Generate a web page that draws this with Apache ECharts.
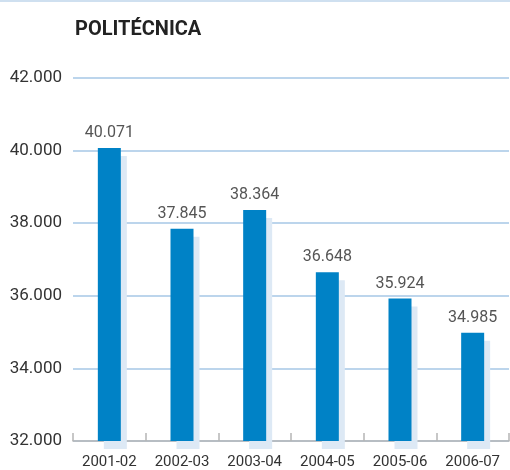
<!DOCTYPE html>
<html>
<head>
<meta charset="utf-8">
<script src="https://cdn.jsdelivr.net/npm/echarts@6/dist/echarts.min.js"></script>
<style>
  html, body { margin: 0; padding: 0; background: #fff; }
  #chart { width: 510px; height: 470px; }
</style>
</head>
<body>
<div id="chart"></div>
<script>
// datos del gráfico
const categories = ['2001-02', '2002-03', '2003-04', '2004-05', '2005-06', '2006-07'];
const values = [40071, 37845, 38364, 36648, 35924, 34985];
const yTicks = [32000, 34000, 36000, 38000, 40000, 42000];

// formato con punto como separador de miles
function fmt (v) {
  return (v / 1000).toFixed(3);
}

const myChart = echarts.init(document.getElementById('chart'));
myChart.setOption({
  animation: false,
  title: {
    text: 'POLITÉCNICA',
    left: 70,
    top: 15,
    textStyle: {
      fontFamily: 'Roboto',
      fontWeight: 'bold',
      fontSize: 20,
      color: '#222'
    }
  },
  graphic: [{
    type: 'rect',
    shape: { x: 0, y: 0, width: 510, height: 2 },
    style: { fill: '#cfe0f0' }
  }],
  grid: {
    left: 73,
    right: 1,
    top: 78,
    bottom: 26
  },
  xAxis: {
    type: 'category',
    data: categories,
    axisLine: { lineStyle: { color: '#b5b5b5', width: 1.5 } },
    axisTick: {
      show: true,
      inside: true,
      length: 8,
      lineStyle: { color: '#b5b5b5', width: 1.5 }
    },
    axisLabel: {
      margin: 14,
      fontFamily: 'Roboto',
      fontSize: 15,
      color: '#333'
    }
  },
  yAxis: {
    type: 'value',
    min: yTicks[0],
    max: yTicks[yTicks.length - 1],
    interval: 2000,
    axisLine: { show: false },
    axisTick: { show: false },
    splitLine: { lineStyle: { color: '#bcd5ec', width: 2 } },
    axisLabel: {
      margin: 11,
      fontFamily: 'Roboto',
      fontSize: 17,
      color: '#333',
      formatter: fmt
    }
  },
  series: [{
    type: 'bar',
    data: values,
    barWidth: 23,
    itemStyle: {
      color: '#0082c6',
      shadowColor: '#dde9f5',
      shadowBlur: 0,
      shadowOffsetX: 6,
      shadowOffsetY: 8
    },
    label: {
      show: true,
      position: 'top',
      distance: 7,
      fontFamily: 'Roboto',
      fontSize: 16,
      color: '#555',
      formatter: function (p) { return fmt(p.value); }
    }
  }]
});
</script>
</body>
</html>
